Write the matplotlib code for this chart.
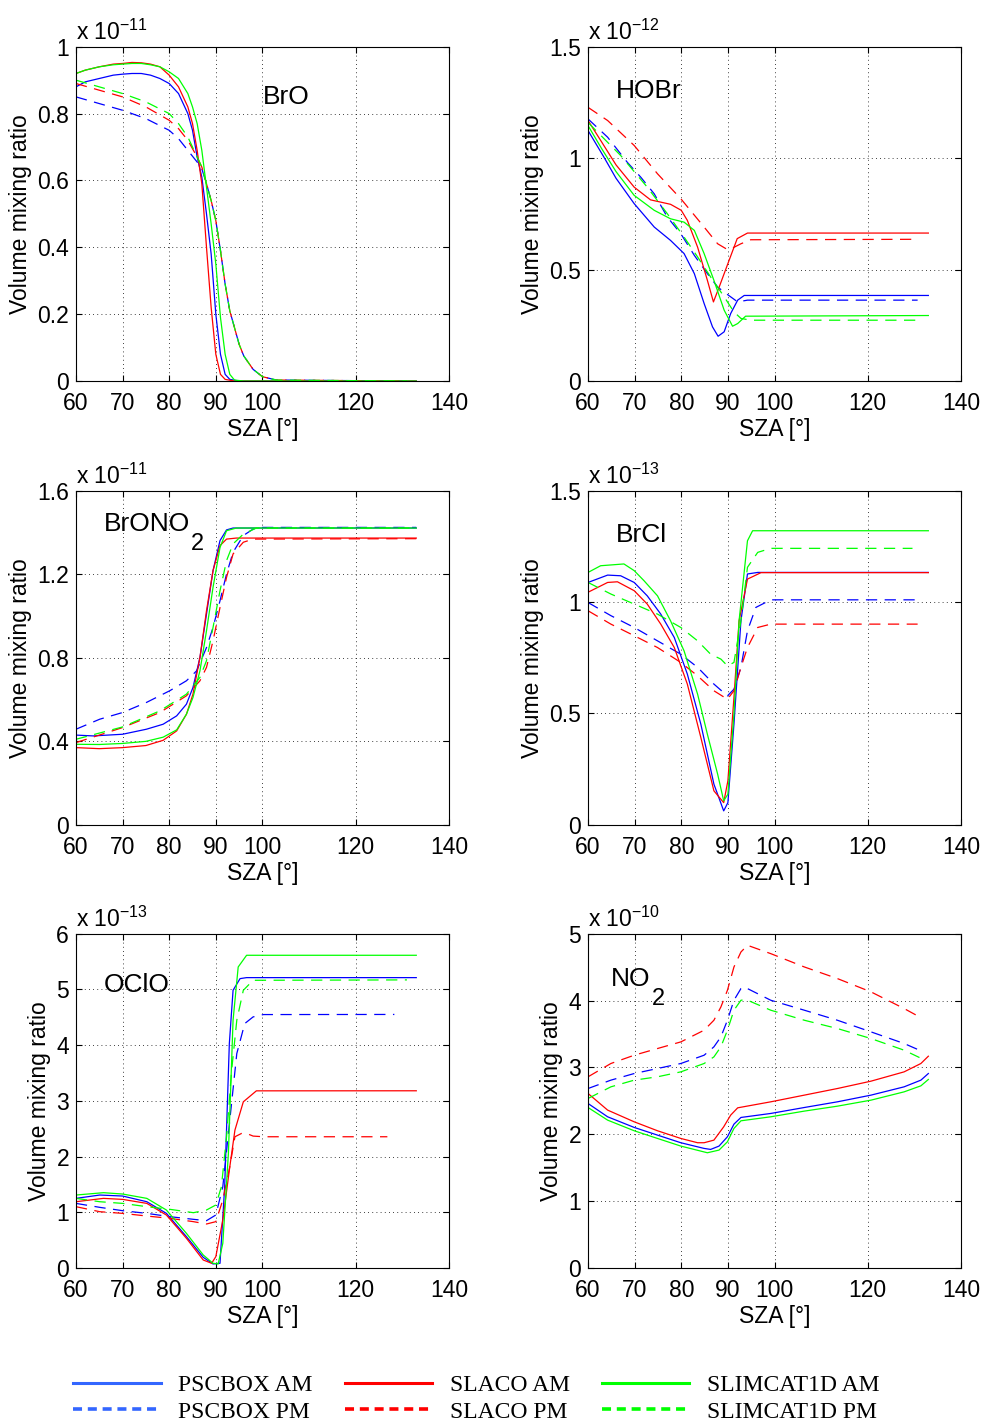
import matplotlib
matplotlib.use('Agg')
import matplotlib.pyplot as plt
from matplotlib.lines import Line2D

plt.rcParams['font.family'] = ['Liberation Sans', 'DejaVu Sans']
plt.rcParams['mathtext.fontset'] = 'custom'
plt.rcParams['mathtext.rm'] = 'Liberation Sans'
plt.rcParams['mathtext.it'] = 'Liberation Sans'

# ---- BrO (x 1e-11) ----
bro_psc_am_x = [60, 62, 65, 68, 70, 72, 74, 76, 78, 80, 82, 84, 85, 86, 87, 88, 89, 90, 91, 92, 93, 95, 133]
bro_psc_am_y = [0.88, 0.895, 0.905, 0.915, 0.918, 0.92, 0.92, 0.915, 0.905, 0.89, 0.86, 0.80, 0.75, 0.67, 0.61, 0.50, 0.38, 0.20, 0.08, 0.02, 0.005, 0.0, 0.0]
bro_psc_pm_x = [60, 65, 70, 75, 80, 82, 84, 86, 87, 88, 89, 90, 91, 92, 93, 94, 95, 96, 98, 100, 103, 131]
bro_psc_pm_y = [0.85, 0.83, 0.81, 0.785, 0.75, 0.725, 0.69, 0.655, 0.635, 0.59, 0.54, 0.48, 0.39, 0.29, 0.21, 0.16, 0.11, 0.075, 0.035, 0.013, 0.003, 0.0]
bro_sla_am_x = [60, 62, 65, 68, 70, 72, 74, 76, 78, 80, 82, 84, 85, 86, 87, 88, 89, 90, 91, 92, 94, 133]
bro_sla_am_y = [0.92, 0.93, 0.94, 0.948, 0.95, 0.953, 0.952, 0.948, 0.94, 0.915, 0.88, 0.82, 0.77, 0.69, 0.59, 0.40, 0.22, 0.08, 0.02, 0.005, 0.0, 0.0]
bro_sla_pm_x = [60, 65, 70, 75, 80, 82, 84, 86, 87, 88, 89, 90, 91, 92, 93, 94, 95, 96, 98, 100, 103, 131]
bro_sla_pm_y = [0.89, 0.87, 0.85, 0.82, 0.78, 0.755, 0.72, 0.67, 0.64, 0.59, 0.54, 0.48, 0.39, 0.29, 0.21, 0.16, 0.11, 0.075, 0.035, 0.013, 0.003, 0.0]
bro_slim_am_x = [60, 62, 65, 68, 70, 72, 74, 76, 78, 80, 82, 84, 85, 86, 87, 88, 89, 90, 91, 92, 93, 94, 96, 133]
bro_slim_am_y = [0.92, 0.93, 0.94, 0.946, 0.948, 0.95, 0.95, 0.946, 0.94, 0.925, 0.905, 0.86, 0.82, 0.77, 0.69, 0.58, 0.47, 0.35, 0.19, 0.08, 0.02, 0.003, 0.0, 0.0]
bro_slim_pm_x = [60, 65, 70, 75, 80, 82, 84, 86, 87, 88, 89, 90, 91, 92, 93, 94, 95, 96, 98, 100, 103, 131]
bro_slim_pm_y = [0.90, 0.88, 0.86, 0.835, 0.80, 0.77, 0.73, 0.67, 0.64, 0.59, 0.54, 0.48, 0.39, 0.29, 0.21, 0.16, 0.11, 0.075, 0.035, 0.013, 0.003, 0.0]

# ---- HOBr (x 1e-12) ----
hobr_psc_am_x = [60, 63.4, 66, 69.9, 74.2, 77.7, 80.6, 82.8, 84.9, 86.7, 87.9, 89.2, 90.6, 92.1, 93.5, 133]
hobr_psc_am_y = [1.124, 1.005, 0.91, 0.796, 0.691, 0.631, 0.572, 0.482, 0.348, 0.243, 0.201, 0.221, 0.303, 0.363, 0.384, 0.384]
hobr_psc_pm_x = [60, 64.2, 68.4, 71.3, 74.2, 77, 79.9, 82.8, 85.6, 87.8, 89.6, 92.1, 94.2, 130.7]
hobr_psc_pm_y = [1.176, 1.094, 0.982, 0.915, 0.840, 0.736, 0.661, 0.564, 0.482, 0.422, 0.393, 0.355, 0.363, 0.363]
hobr_sla_am_x = [60, 63, 66, 69.9, 73.4, 77.7, 80, 81.3, 83.5, 85.6, 86.9, 88.1, 90, 92, 94.2, 133]
hobr_sla_am_y = [1.169, 1.07, 0.97, 0.870, 0.813, 0.793, 0.766, 0.721, 0.601, 0.452, 0.355, 0.42, 0.527, 0.639, 0.664, 0.664]
hobr_sla_pm_x = [60, 64.2, 69.9, 74.9, 79.9, 84.9, 87.8, 89.9, 91.3, 92.8, 94.9, 130.7]
hobr_sla_pm_y = [1.228, 1.169, 1.057, 0.93, 0.818, 0.691, 0.616, 0.590, 0.60, 0.616, 0.634, 0.636]
hobr_slim_am_x = [60, 63, 66, 69.9, 74.2, 77.7, 80.6, 82.8, 84.9, 87, 89.2, 91, 92.1, 93.8, 133]
hobr_slim_am_y = [1.146, 1.04, 0.94, 0.833, 0.766, 0.728, 0.713, 0.676, 0.572, 0.452, 0.318, 0.246, 0.258, 0.291, 0.294]
hobr_slim_pm_x = [60, 67, 72.7, 77, 80.6, 83.5, 86.3, 89.2, 91.3, 92.8, 94.9, 131]
hobr_slim_pm_y = [1.16, 1.012, 0.870, 0.751, 0.646, 0.557, 0.467, 0.378, 0.310, 0.281, 0.273, 0.273]

# ---- BrONO2 (x 1e-11) ----
brono2_psc_am_x = [60, 63.7, 70, 75.1, 78.7, 81.6, 83.7, 85.1, 86.6, 88, 89.4, 90.9, 92.3, 93.7, 133]
brono2_psc_am_y = [0.430, 0.426, 0.434, 0.458, 0.482, 0.522, 0.578, 0.658, 0.802, 1.009, 1.217, 1.361, 1.412, 1.421, 1.421]
brono2_psc_pm_x = [60, 65.1, 70, 75.1, 80.1, 83.7, 85.9, 88, 89.4, 90.9, 92.3, 93.7, 95.9, 98, 99.4, 133]
brono2_psc_pm_y = [0.458, 0.506, 0.538, 0.586, 0.642, 0.690, 0.738, 0.849, 0.945, 1.073, 1.201, 1.305, 1.385, 1.416, 1.424, 1.424]
brono2_sla_am_x = [60, 65, 70, 75, 78.7, 81.6, 83.7, 85.1, 86.6, 88, 89.4, 90.9, 92.3, 94.4, 133]
brono2_sla_am_y = [0.370, 0.365, 0.370, 0.380, 0.405, 0.450, 0.530, 0.626, 0.802, 1.025, 1.217, 1.337, 1.368, 1.373, 1.373]
brono2_sla_pm_x = [60, 70, 78, 83.7, 86.6, 88, 89.4, 90.9, 92.3, 93.7, 95.9, 98, 133]
brono2_sla_pm_y = [0.394, 0.466, 0.538, 0.618, 0.690, 0.754, 0.881, 1.041, 1.185, 1.297, 1.353, 1.368, 1.370]
brono2_slim_am_x = [60, 65, 70, 75, 78.7, 81.6, 83.7, 85.1, 86.6, 88, 89.4, 90.9, 92.3, 94.4, 133]
brono2_slim_am_y = [0.386, 0.385, 0.390, 0.400, 0.420, 0.455, 0.530, 0.610, 0.738, 0.929, 1.137, 1.328, 1.408, 1.421, 1.421]
brono2_slim_pm_x = [60, 70, 78, 83.7, 86.6, 88, 89.4, 90.9, 92.3, 93.7, 95.9, 98.7, 133]
brono2_slim_pm_y = [0.410, 0.469, 0.546, 0.626, 0.706, 0.786, 0.945, 1.121, 1.265, 1.345, 1.392, 1.421, 1.421]

# ---- BrCl (x 1e-13) ----
brcl_psc_am_x = [60, 64.2, 67, 69.9, 72.7, 75.6, 78.5, 81.3, 84.2, 87, 89.1, 90, 91.3, 92.8, 94.2, 96.4, 133]
brcl_psc_am_y = [1.088, 1.121, 1.118, 1.088, 1.028, 0.946, 0.841, 0.677, 0.452, 0.183, 0.063, 0.100, 0.452, 0.916, 1.126, 1.133, 1.133]
brcl_psc_pm_x = [60, 64.9, 69.9, 74.9, 79.9, 83.5, 87, 89.9, 91.3, 92.8, 94.2, 96, 99.2, 130.7]
brcl_psc_pm_y = [0.998, 0.939, 0.886, 0.826, 0.766, 0.707, 0.632, 0.579, 0.609, 0.707, 0.871, 0.976, 1.010, 1.010]
brcl_sla_am_x = [60, 64.2, 66.3, 69.9, 72.7, 75.6, 78.5, 81.3, 84.2, 87, 89.1, 90, 91.3, 92.4, 94.2, 97.1, 133]
brcl_sla_am_y = [1.044, 1.088, 1.091, 1.051, 0.991, 0.901, 0.796, 0.632, 0.392, 0.153, 0.100, 0.198, 0.572, 0.916, 1.103, 1.132, 1.132]
brcl_sla_pm_x = [60, 64.9, 69.9, 74.9, 79.9, 83.5, 87, 89.9, 91.3, 92.8, 94.2, 96.4, 99.2, 130.7]
brcl_sla_pm_y = [0.961, 0.901, 0.849, 0.796, 0.729, 0.669, 0.602, 0.564, 0.602, 0.707, 0.796, 0.886, 0.901, 0.901]
brcl_slim_am_x = [60, 62.7, 67.7, 69.9, 72, 74.9, 77.7, 80.6, 83.5, 85.6, 87.8, 89.1, 90, 91.3, 92.4, 94.2, 95.3, 133]
brcl_slim_am_y = [1.133, 1.163, 1.171, 1.141, 1.096, 1.028, 0.916, 0.781, 0.587, 0.407, 0.228, 0.108, 0.138, 0.497, 0.916, 1.275, 1.320, 1.320]
brcl_slim_pm_x = [60, 64.9, 69.9, 74.9, 79.9, 83.5, 86.3, 88.5, 89.9, 91.3, 92.8, 94.2, 96.4, 99.2, 129.6]
brcl_slim_pm_y = [1.088, 1.036, 0.991, 0.946, 0.886, 0.826, 0.766, 0.744, 0.714, 0.729, 0.916, 1.156, 1.223, 1.241, 1.241]

# ---- OClO (x 1e-13) ----
oclo_psc_am_x = [60, 65.1, 70, 75.2, 79.4, 83.7, 87.3, 89.4, 90.9, 91.9, 92.9, 93.7, 95.2, 96.6, 133]
oclo_psc_am_y = [1.249, 1.309, 1.291, 1.189, 0.980, 0.562, 0.191, 0.072, 0.084, 1.458, 4.028, 4.984, 5.193, 5.211, 5.211]
oclo_psc_pm_x = [60, 65.1, 70, 75.2, 80.2, 85.2, 88, 90, 91.5, 93, 94.5, 96.2, 98, 100.2, 128.3]
oclo_psc_pm_y = [1.159, 1.088, 1.028, 0.980, 0.920, 0.873, 0.849, 0.950, 1.458, 2.653, 3.848, 4.386, 4.506, 4.548, 4.55]
oclo_sla_am_x = [60, 65.9, 70, 75.2, 79.4, 83.7, 87.3, 89.1, 90, 91.5, 93, 94.1, 95.9, 98.7, 133]
oclo_sla_am_y = [1.189, 1.249, 1.231, 1.159, 0.950, 0.532, 0.143, 0.084, 0.203, 0.861, 1.817, 2.474, 2.982, 3.179, 3.18]
oclo_sla_pm_x = [60, 65.1, 70, 75.2, 80.2, 85.2, 88, 90, 91.5, 93, 94.1, 95.5, 96.6, 98, 100.2, 126.8]
oclo_sla_pm_y = [1.100, 1.010, 0.980, 0.932, 0.890, 0.831, 0.789, 0.831, 1.219, 1.817, 2.355, 2.414, 2.414, 2.367, 2.355, 2.355]
oclo_slim_am_x = [60, 65.9, 70, 75.2, 79.4, 83.7, 87.3, 89.4, 90.5, 91.5, 92.7, 93.7, 94.8, 96.6, 133]
oclo_slim_am_y = [1.309, 1.351, 1.327, 1.249, 1.040, 0.621, 0.233, 0.084, 0.072, 0.442, 2.056, 4.446, 5.402, 5.612, 5.612]
oclo_slim_pm_x = [60, 65.1, 70, 75.2, 80.2, 85.2, 88, 90, 91.2, 92.3, 93.4, 94.5, 95.9, 98, 131]
oclo_slim_pm_y = [1.249, 1.189, 1.159, 1.100, 1.052, 0.992, 1.040, 1.130, 1.458, 2.355, 3.550, 4.446, 4.984, 5.163, 5.17]

# ---- NO2 (x 1e-10) ----
no2_psc_am_x = [60, 64.2, 69.9, 74.9, 79.9, 84.9, 86.3, 88.1, 89.9, 91.3, 92.8, 99.2, 106.4, 113.5, 120.7, 127.8, 131.4, 133]
no2_psc_am_y = [2.460, 2.261, 2.102, 1.987, 1.873, 1.788, 1.773, 1.823, 1.962, 2.151, 2.251, 2.311, 2.400, 2.485, 2.585, 2.709, 2.809, 2.908]
no2_psc_pm_x = [60, 64.9, 69.9, 74.9, 79.9, 84.9, 87, 88.5, 89.9, 91.3, 92.8, 93.5, 99.2, 106.4, 113.5, 120.7, 127.8, 131.1]
no2_psc_pm_y = [2.684, 2.809, 2.908, 2.983, 3.058, 3.182, 3.307, 3.456, 3.705, 4.004, 4.179, 4.203, 4.004, 3.855, 3.705, 3.531, 3.357, 3.257]
no2_sla_am_x = [60, 64.2, 69.9, 74.9, 79.9, 83.5, 84.9, 87, 89.1, 90.6, 92.1, 99.2, 106.4, 113.5, 120.7, 127.8, 131.4, 133]
no2_sla_am_y = [2.610, 2.361, 2.186, 2.052, 1.937, 1.873, 1.873, 1.912, 2.111, 2.286, 2.395, 2.485, 2.585, 2.684, 2.794, 2.933, 3.058, 3.167]
no2_sla_pm_x = [60, 64.9, 69.9, 74.9, 79.9, 84.9, 87, 88.5, 89.9, 91.3, 92.8, 94.2, 99.2, 106.4, 113.5, 120.7, 127.8, 131.1]
no2_sla_pm_y = [2.859, 3.058, 3.182, 3.282, 3.381, 3.556, 3.705, 3.904, 4.153, 4.502, 4.726, 4.826, 4.701, 4.502, 4.328, 4.129, 3.880, 3.755]
no2_slim_am_x = [60, 64.2, 69.9, 74.9, 79.9, 85.6, 88.1, 89.9, 91.3, 92.8, 99.2, 106.4, 113.5, 120.7, 127.8, 131.4, 133]
no2_slim_am_y = [2.400, 2.211, 2.052, 1.937, 1.823, 1.723, 1.763, 1.887, 2.087, 2.201, 2.261, 2.346, 2.420, 2.510, 2.634, 2.724, 2.819]
no2_slim_pm_x = [60, 64.9, 69.9, 74.9, 79.9, 84.9, 87, 88.5, 89.9, 91.3, 92.8, 93.9, 99.2, 106.4, 113.5, 120.7, 127.8, 131.1]
no2_slim_pm_y = [2.535, 2.709, 2.809, 2.859, 2.933, 3.058, 3.157, 3.307, 3.556, 3.855, 4.004, 4.014, 3.855, 3.705, 3.581, 3.431, 3.257, 3.147]

series_labels = ['PSCBOX AM', 'PSCBOX PM', 'SLACO AM', 'SLACO PM', 'SLIMCAT1D AM', 'SLIMCAT1D PM']
series_colors = ['#0000ff', '#0000ff', '#ff0000', '#ff0000', '#00ff00', '#00ff00']
series_dashed = [False, True, False, True, False, True]

# name, subscript, exponent, yticks, ytick labels, label position
panels = [
    ('BrO', '', -11, [0, 0.2, 0.4, 0.6, 0.8, 1], ['0', '0.2', '0.4', '0.6', '0.8', '1'], (100, 0.85),
     [(bro_psc_am_x, bro_psc_am_y), (bro_psc_pm_x, bro_psc_pm_y), (bro_sla_am_x, bro_sla_am_y),
      (bro_sla_pm_x, bro_sla_pm_y), (bro_slim_am_x, bro_slim_am_y), (bro_slim_pm_x, bro_slim_pm_y)]),
    ('HOBr', '', -12, [0, 0.5, 1, 1.5], ['0', '0.5', '1', '1.5'], (66, 1.30),
     [(hobr_psc_am_x, hobr_psc_am_y), (hobr_psc_pm_x, hobr_psc_pm_y), (hobr_sla_am_x, hobr_sla_am_y),
      (hobr_sla_pm_x, hobr_sla_pm_y), (hobr_slim_am_x, hobr_slim_am_y), (hobr_slim_pm_x, hobr_slim_pm_y)]),
    ('BrONO', '2', -11, [0, 0.4, 0.8, 1.2, 1.6], ['0', '0.4', '0.8', '1.2', '1.6'], (66, 1.44),
     [(brono2_psc_am_x, brono2_psc_am_y), (brono2_psc_pm_x, brono2_psc_pm_y), (brono2_sla_am_x, brono2_sla_am_y),
      (brono2_sla_pm_x, brono2_sla_pm_y), (brono2_slim_am_x, brono2_slim_am_y), (brono2_slim_pm_x, brono2_slim_pm_y)]),
    ('BrCl', '', -13, [0, 0.5, 1, 1.5], ['0', '0.5', '1', '1.5'], (66, 1.30),
     [(brcl_psc_am_x, brcl_psc_am_y), (brcl_psc_pm_x, brcl_psc_pm_y), (brcl_sla_am_x, brcl_sla_am_y),
      (brcl_sla_pm_x, brcl_sla_pm_y), (brcl_slim_am_x, brcl_slim_am_y), (brcl_slim_pm_x, brcl_slim_pm_y)]),
    ('OClO', '', -13, [0, 1, 2, 3, 4, 5, 6], ['0', '1', '2', '3', '4', '5', '6'], (66, 5.08),
     [(oclo_psc_am_x, oclo_psc_am_y), (oclo_psc_pm_x, oclo_psc_pm_y), (oclo_sla_am_x, oclo_sla_am_y),
      (oclo_sla_pm_x, oclo_sla_pm_y), (oclo_slim_am_x, oclo_slim_am_y), (oclo_slim_pm_x, oclo_slim_pm_y)]),
    ('NO', '2', -10, [0, 1, 2, 3, 4, 5], ['0', '1', '2', '3', '4', '5'], (65, 4.32),
     [(no2_psc_am_x, no2_psc_am_y), (no2_psc_pm_x, no2_psc_pm_y), (no2_sla_am_x, no2_sla_am_y),
      (no2_sla_pm_x, no2_sla_pm_y), (no2_slim_am_x, no2_slim_am_y), (no2_slim_pm_x, no2_slim_pm_y)]),
]

xticks = [60, 70, 80, 90, 100, 120, 140]

fig = plt.figure(figsize=(9.84, 14.25), dpi=100)
lefts = [0.0772, 0.5976]
bottoms = [0.7326, 0.4211, 0.1102]
w, h = 0.379, 0.2346

for i, (name, sub, expo, yt, ytl, lab_pos, data) in enumerate(panels):
    ax = fig.add_axes([lefts[i % 2], bottoms[i // 2], w, h])
    for (x, y), c, dashed in zip(data, series_colors, series_dashed):
        if dashed:
            ax.plot(x, y, color=c, lw=0.9, dashes=(9, 6))
        else:
            ax.plot(x, y, color=c, lw=0.9)
    ax.set_xlim(60, 140)
    ax.set_ylim(yt[0], yt[-1])
    ax.set_xticks(xticks)
    ax.set_xticklabels([str(t) for t in xticks])
    ax.set_yticks(yt)
    ax.set_yticklabels(ytl)
    ax.tick_params(direction='in', length=4, top=True, right=True, labelsize=16.5)
    ax.tick_params(axis='x', pad=8)
    ax.tick_params(axis='y', pad=5)
    ax.grid(True, color='black', linestyle=(0, (1, 4)), linewidth=0.6)
    for s in ax.spines.values():
        s.set_linewidth(0.8)
    ax.set_xlabel('SZA [°]', fontsize=16.5, labelpad=2)
    ax.set_ylabel('Volume mixing ratio', fontsize=16.5, labelpad=4)
    ax.text(0.0, 1.005, 'x 10$^{%d}$' % expo, transform=ax.transAxes, fontsize=16.5,
            ha='left', va='bottom')
    t = ax.text(lab_pos[0], lab_pos[1], name, fontsize=19, ha='left', va='center')
    if sub:
        ax.annotate(sub, xy=(1, 0), xycoords=t, xytext=(0.5, 2), textcoords='offset points',
                    fontsize=17, ha='left', va='top')

handles = []
for c, dashed in zip(series_colors, series_dashed):
    lc = '#3366ff' if c == '#0000ff' else c
    if dashed:
        handles.append(Line2D([], [], color=lc, lw=2.6, linestyle=(0, (2.5, 1.6))))
    else:
        handles.append(Line2D([], [], color=lc, lw=2.2))

fig.legend(handles, series_labels, loc='center', bbox_to_anchor=(0.484, 0.0185), ncol=3,
           frameon=False, prop={'family': 'Liberation Serif', 'size': 17},
           handlelength=3.7, handletextpad=0.75, columnspacing=1.35, labelspacing=0.2)

fig.savefig('out.png', dpi=100)
